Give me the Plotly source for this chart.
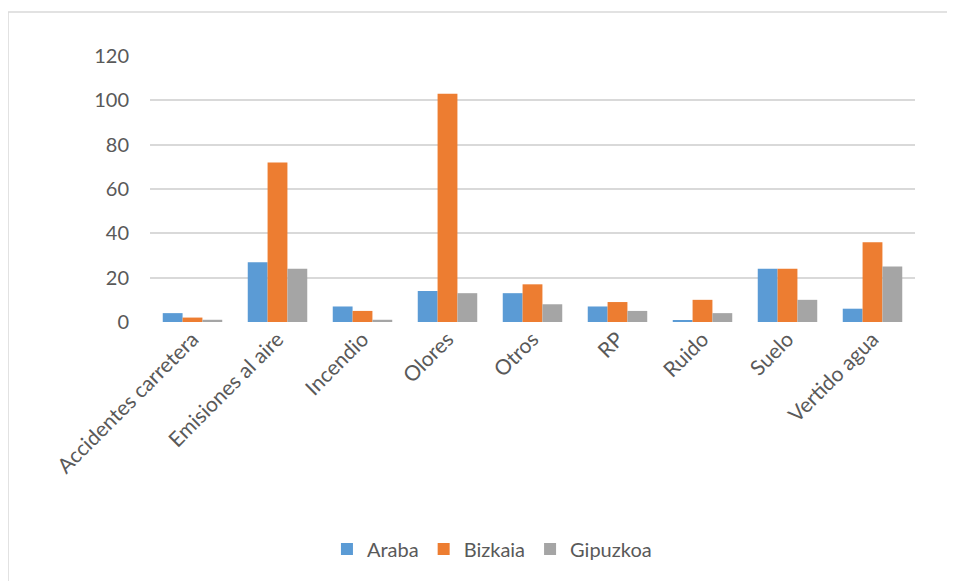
import plotly.graph_objects as go

categories = ["Accidentes carretera", "Emisiones al aire", "Incendio", "Olores",
              "Otros", "RP", "Ruido", "Suelo", "Vertido agua"]
araba = [4, 27, 7, 14, 13, 7, 0.5, 24, 6]
bizkaia = [2, 72, 5, 103, 17, 9, 10, 24, 36]
gipuzkoa = [1, 24, 1, 13, 8, 5, 4, 10, 25]
y_ticks = [0, 20, 40, 60, 80, 100, 120]

series = [("Araba", araba, "#5B9BD5"), ("Bizkaia", bizkaia, "#ED7D31"),
          ("Gipuzkoa", gipuzkoa, "#A5A5A5")]

fig = go.Figure()
for name, vals, col in series:
    fig.add_trace(go.Bar(x=categories, y=vals, name=name, marker_color=col,
                         marker_line_width=0))

font = "Lato"
fig.update_layout(
    width=947, height=573,
    paper_bgcolor="white", plot_bgcolor="white",
    barmode="group", bargap=0.3, bargroupgap=0,
    margin=dict(l=142, r=40, t=48, b=259, autoexpand=False),
    font=dict(family=font, size=21, color="#595959"),
    xaxis=dict(tickangle=-45, showgrid=False, showline=False, ticks="", automargin=False,
               tickfont=dict(size=21, color="#595959")),
    yaxis=dict(range=[0, 120], tickvals=y_ticks, showgrid=True, gridcolor="#D9D9D9",
               gridwidth=1.5, zeroline=False, showline=False, ticks="", automargin=False,
               ticklabelstandoff=20, tickfont=dict(size=20, color="#595959")),
    legend=dict(orientation="h", x=0.447, xanchor="center", y=-0.853, yanchor="middle",
                font=dict(size=20, color="#595959"), itemwidth=30, traceorder="normal"),
    shapes=[
        dict(type="line", xref="paper", yref="paper", x0=-0.1856, x1=1.06, y0=1.165, y1=1.165,
             line=dict(color="#D9D9D9", width=1.5)),
        dict(type="line", xref="paper", yref="paper", x0=-0.1856, x1=-0.1856, y0=1.165, y1=-1.0,
             line=dict(color="#D9D9D9", width=1.5)),
    ],
)

fig.write_html("out.html")
